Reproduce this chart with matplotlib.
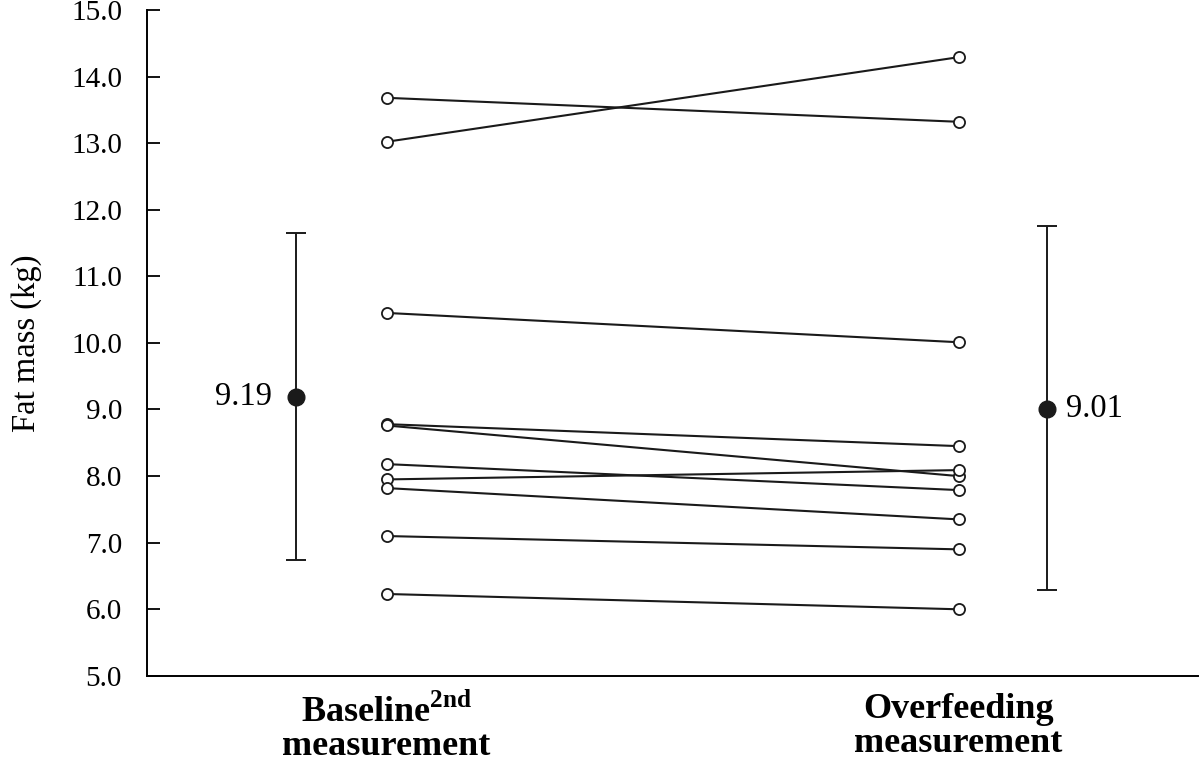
import numpy as np
import matplotlib
matplotlib.use('Agg')
import matplotlib.pyplot as plt

# individual subjects, fat mass (kg)
baseline = [13.68, 13.02, 10.45, 8.78, 8.76, 8.18, 7.95, 7.82, 7.10, 6.23]
overfeeding = [13.32, 14.29, 10.01, 8.45, 8.00, 7.79, 8.09, 7.35, 6.90, 6.00]

mean_vals = [9.19, 9.01]
err_low = [6.74, 6.29]
err_high = [11.65, 11.75]
mean_labels = ['9.19', '9.01']

group_labels = ['Baseline$^{\\mathbf{2nd}}$\nmeasurement', 'Overfeeding\nmeasurement']
yticks = np.arange(5.0, 15.01, 1.0)

plt.rcParams['font.family'] = ['Liberation Serif', 'DejaVu Serif']
plt.rcParams['mathtext.fontset'] = 'custom'
plt.rcParams['mathtext.bf'] = 'Liberation Serif:bold'

fig = plt.figure(figsize=(12, 7.62), dpi=100)
ax = fig.add_axes([0.1225, 0.113, 0.876, 0.874])

x_base, x_over = 1.0, 2.0
x_mean = [0.841, 2.155]

for b, o in zip(baseline, overfeeding):
    ax.plot([x_base, x_over], [b, o], color='#1a1a1a', lw=1.5,
            marker='o', ms=8, mfc='white', mec='#1a1a1a', mew=1.3)

for i in range(2):
    m = mean_vals[i]
    ax.errorbar(x_mean[i], m, yerr=[[m - err_low[i]], [err_high[i] - m]],
                fmt='o', color='#1a1a1a', ms=12, capsize=7, elinewidth=1.4,
                capthick=1.4)

ax.text(x_mean[0] - 0.042, mean_vals[0], mean_labels[0], fontsize=23.5,
        ha='right', va='center')
ax.text(x_mean[1] + 0.033, mean_vals[1], mean_labels[1], fontsize=23.5,
        ha='left', va='center')

ax.set_xlim(0.581, 2.419)
ax.set_ylim(5.0, 15.0)
ax.set_yticks(yticks)
ax.set_yticklabels(['%.1f' % t for t in yticks], fontsize=21)
ax.tick_params(axis='y', direction='in', length=9, width=1.3, pad=18)
ax.set_xticks([x_base, x_over])
ax.set_xticklabels(group_labels, fontsize=26, fontweight='bold', linespacing=1.05)
ax.tick_params(axis='x', length=0, pad=12)
ax.set_ylabel('Fat mass (kg)', fontsize=23.5, labelpad=21)

ax.spines['top'].set_visible(False)
ax.spines['right'].set_visible(False)
for s in ['left', 'bottom']:
    ax.spines[s].set_linewidth(1.4)

plt.savefig('out.png', dpi=100)
